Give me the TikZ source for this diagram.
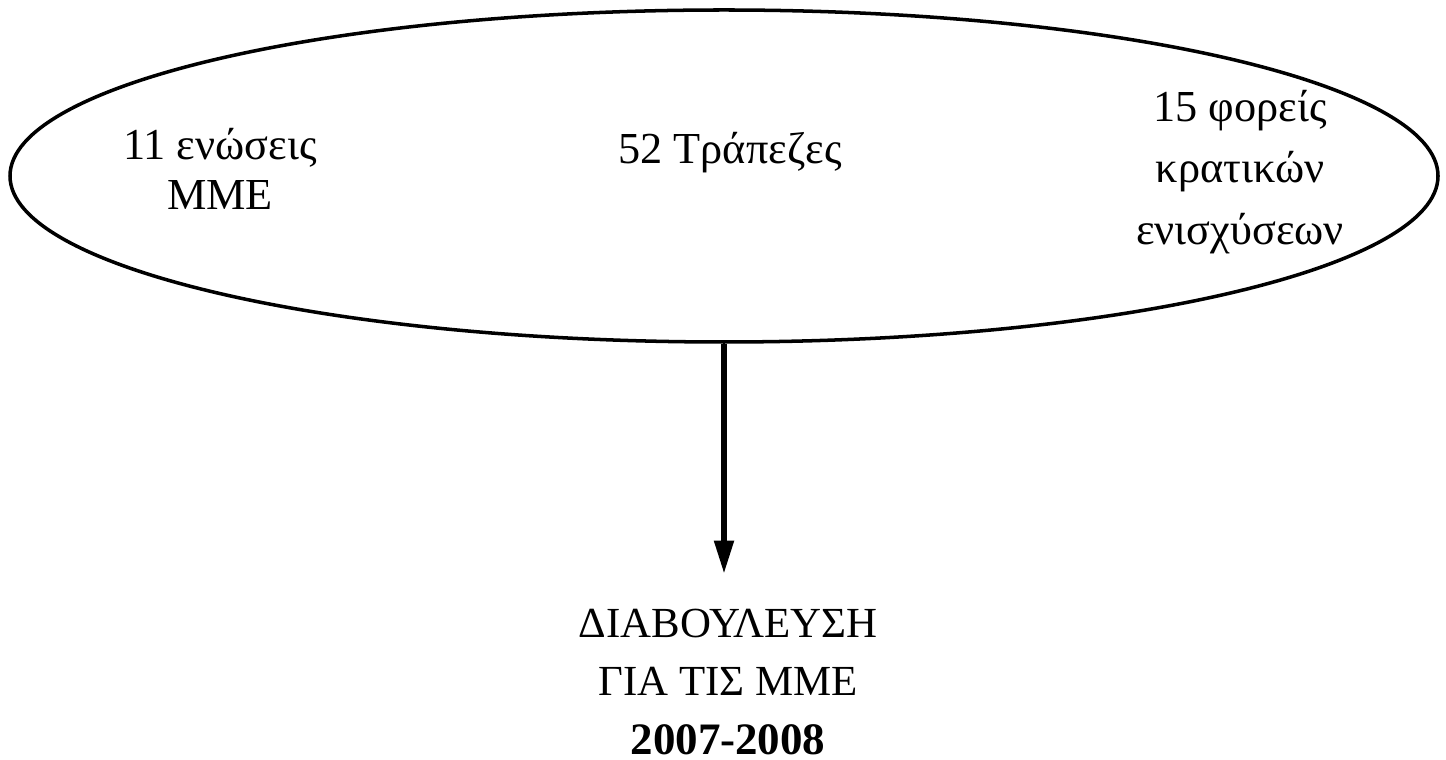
\documentclass[tikz,border=0pt]{standalone}
\usepackage{fontspec}
\setmainfont{Liberation Serif}
\usepackage{tikz}
\usetikzlibrary{
  arrows.meta,
  positioning,
  shapes.geometric
}

\begin{document}
\begin{tikzpicture}[
    >=Triangle,
    % Styles
    group/.style={
        ellipse, draw=black, line width=1pt,
        minimum width=14.28cm, minimum height=3.32cm,
        inner sep=0pt
    },
    member/.style={
        align=center, inner sep=0pt,
        font=\fontsize{12.6}{#1}\selectfont
    },
    outcome/.style={
        align=center, inner sep=0pt,
        font=\fontsize{12.2}{16.6}\selectfont
    },
    connector/.style={-{Triangle[length=3.3mm, width=1.9mm]}, line width=1.5pt, shorten >=3.5mm}
]
\useasboundingbox (0,0) rectangle (14.46,-7.60);

% ── PARTICIPANTS ──
\node[group] (actors) at (7.24,-1.76) {};

\node[member=14.2] (unions) at (2.20,-1.69) {11 ενώσεις\\ΜΜΕ};
\node[member=17.6] (banks) at (7.30,-1.53) {52 Τράπεζες};
\node[member=17.6] (agencies) at (12.40,-1.72) {15 φορείς\\κρατικών\\ενισχύσεων};

% ── CONSULTATION ──
\node[outcome] (consult) at (7.28,-6.82) {ΔΙΑΒΟΥΛΕΥΣΗ\\ΓΙΑ ΤΙΣ ΜΜΕ\\{\fontsize{12.8}{16.6}\selectfont\bfseries 2007-2008}};

\draw[connector] (actors.south) -- (actors.south |- consult.north);

\end{tikzpicture}
\end{document}
